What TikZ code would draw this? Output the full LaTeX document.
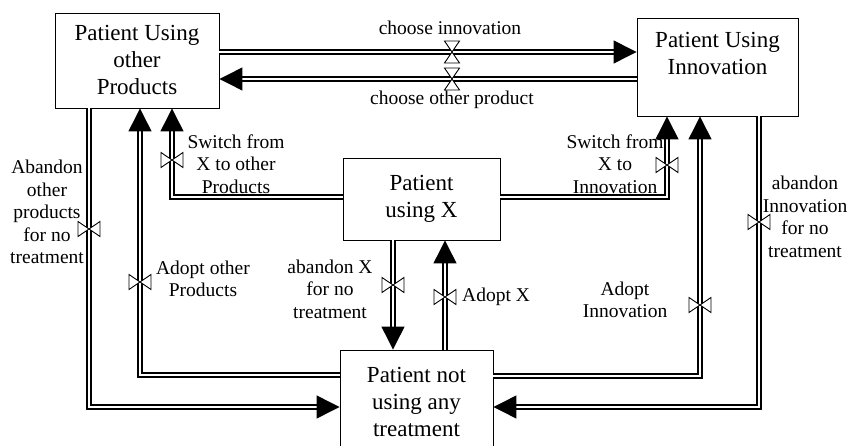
\documentclass[tikz,border=0pt]{standalone}
\usepackage{fontspec}
\setmainfont{Liberation Serif}
\usepackage{tikz}
\usetikzlibrary{arrows.meta}

\tikzset{
  stock/.style={draw, line width=0.9pt, align=center, inner sep=0pt,
    font=\fontsize{23}{27}\selectfont},
  pipe/.style={double, double distance=2.8pt, line width=1.2pt},
  into/.style={-{Triangle[length=23pt,width=23pt]}},
  lbl/.style={align=center, inner sep=0pt, font=\fontsize{19.5}{22.5}\selectfont},
  valve/.pic={\draw[fill=white, line width=0.9pt] (-11pt,-7.5pt) -- (11pt,7.5pt) -- (11pt,-7.5pt) -- (-11pt,7.5pt) -- cycle;}
}

\begin{document}
\begin{tikzpicture}[x=1pt, y=-1pt]
  \useasboundingbox (0,0) rectangle (848,446);

  % Stocks
  \node[stock, minimum width=164pt, minimum height=95pt] (other) at (137,60.5) {Patient Using\\other\\Products};
  \node[stock, minimum width=161pt, minimum height=98pt, text depth=28pt] (inno) at (717.5,67) {Patient Using\\Innovation};
  \node[stock, minimum width=157pt, minimum height=82pt] (xuse) at (421.5,199) {Patient\\using X};
  \node[stock, minimum width=153pt, minimum height=104pt] (none) at (416.5,402) {Patient not\\using any\\treatment};

  % Flows between the two products
  \draw[pipe, into] (other.east |- 0,52) -- (inno.west |- 0,52);
  \draw[pipe, into] (inno.west |- 0,79) -- (other.east |- 0,79);

  % Flows on the left
  \draw[pipe, into] (89,0 |- other.south) |- (none.west |- 0,407);
  \draw[pipe, into] (none.west |- 0,375) -| (140,0 |- other.south);
  \draw[pipe, into] (xuse.west |- 0,197) -| (172,0 |- other.south);

  % Flows on the right
  \draw[pipe, into] (xuse.east |- 0,197) -| (667,0 |- inno.south);
  \draw[pipe, into] (none.east |- 0,376) -| (700,0 |- inno.south);
  \draw[pipe, into] (759,0 |- inno.south) |- (none.east |- 0,407);

  % Flows in the middle
  \draw[pipe, into] (393,0 |- xuse.south) -- (393,0 |- none.north);
  \draw[pipe, into] (445,0 |- none.north) -- (445,0 |- xuse.south);

  % Valves
  \foreach \vx/\vy/\r in {452/52/90, 452/79/90, 89/229/0, 140/282/0, 172/160/0,
                          667/165/0, 700/305/0, 759/222/0, 393/285/0, 445/297/0}
    \pic[rotate=\r] at (\vx,\vy) {valve};

  % Labels
  \node[lbl] (l-ci) at (450,28) {choose innovation};
  \node[lbl] (l-co) at (452,100) {choose other product};
  \node[lbl] (l-ao) at (47,212) {Abandon\\other\\products\\for no\\treatment};
  \node[lbl] (l-do) at (203,279) {Adopt other\\Products};
  \node[lbl] (l-so) at (236,164) {Switch from\\X to other\\Products};
  \node[lbl] (l-si) at (615,164) {Switch from\\X to\\Innovation};
  \node[lbl] (l-di) at (625,300) {Adopt\\Innovation};
  \node[lbl] (l-ai) at (805,217) {abandon\\Innovation\\for no\\treatment};
  \node[lbl] (l-ax) at (330,289) {abandon X\\for no\\treatment};
  \node[lbl, anchor=west] (l-dx) at (462,297) {Adopt X};
\end{tikzpicture}
\end{document}
